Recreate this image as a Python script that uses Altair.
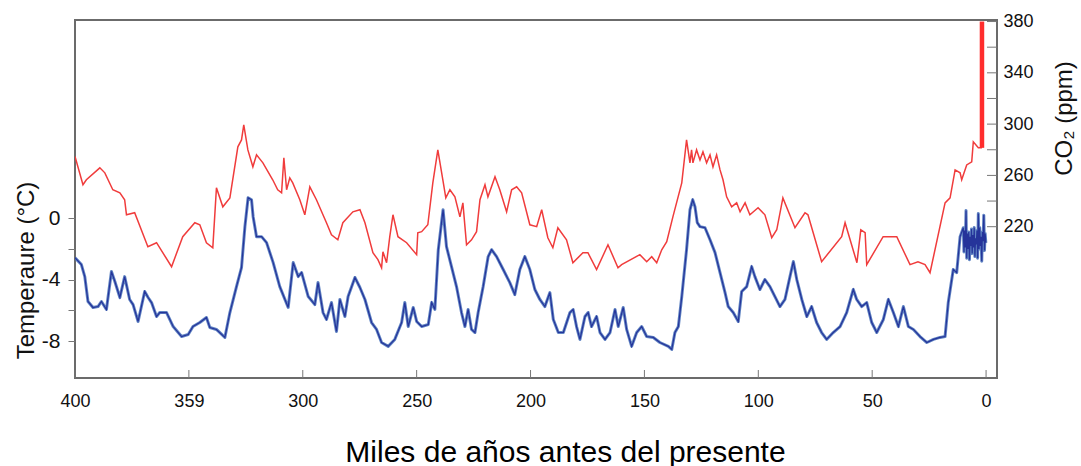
import altair as alt
import pandas as pd

# ---------------- data ----------------
co2_age = [400.0, 396.5, 395.0, 389.1, 386.9, 383.4, 380.3, 378.2, 377.4, 373.8, 368.0, 364.2, 357.6,
           352.7, 347.4, 345.2, 342.3, 339.5, 337.9, 335.1, 332.0, 328.5, 326.9, 325.9, 324.1, 321.9,
           320.3, 317.5, 313.2, 311.0, 309.3, 308.3, 307.1, 305.7, 304.4, 301.3, 299.1, 296.9, 294.0,
           289.6, 287.4, 284.6, 282.4, 278.0, 274.9, 272.7, 269.2, 267.0, 265.4, 264.8, 263.2, 261.8,
           260.4, 258.2, 254.4, 250.0, 249.5, 247.8, 245.1, 242.9, 240.7, 238.5, 237.2, 235.4, 233.2,
           231.0, 229.7, 228.1, 225.9, 223.7, 222.2, 220.0, 218.7, 215.6, 213.5, 210.5, 208.3, 206.1,
           203.9, 200.3, 197.3, 195.1, 192.4, 190.2, 188.0, 184.2, 181.4, 177.0, 174.8, 171.0, 166.0,
           161.6, 160.0, 152.0, 149.0, 146.8, 144.6, 142.4, 140.2, 137.5, 133.6, 131.5, 130.0, 129.3,
           128.7, 127.1, 125.6, 124.3, 122.7, 121.2, 119.9, 118.3, 116.8, 115.5, 113.9, 111.7, 109.5,
           108.0, 105.8, 103.7, 100.1, 97.1, 94.1, 91.9, 89.2, 83.9, 79.5, 78.2, 72.2, 63.4, 61.9,
           56.7, 55.0, 53.1, 52.4, 45.2, 39.2, 33.4, 29.9, 26.8, 24.6, 18.0, 15.8, 13.6, 11.4, 10.7,
           8.5, 6.3, 5.6, 3.4, 1.8]
co2_ppm = [274.7, 252.7, 256.6, 265.9, 262.0, 248.8, 246.4, 241.0, 229.3, 230.9, 204.4, 207.5, 188.8,
           212.2, 223.1, 221.5, 207.5, 203.6, 250.3, 235.5, 242.5, 282.3, 287.7, 299.4, 279.9, 266.7,
           276.0, 269.8, 256.6, 248.8, 246.4, 273.7, 248.8, 258.1, 254.2, 241.0, 229.3, 251.1, 241.0,
           223.1, 213.7, 209.8, 223.1, 231.6, 233.2, 223.1, 199.7, 194.3, 188.0, 200.5, 191.9, 212.2,
           229.3, 212.2, 207.5, 198.2, 215.3, 216.1, 221.5, 254.2, 279.9, 256.6, 242.5, 248.8, 243.3,
           227.7, 238.6, 205.9, 209.8, 216.1, 241.0, 252.7, 243.3, 258.9, 248.8, 231.6, 248.8, 251.1,
           246.4, 221.5, 220.0, 233.2, 211.4, 203.6, 219.2, 209.8, 191.9, 199.7, 199.7, 186.5, 205.9,
           188.0, 190.4, 198.2, 192.7, 196.6, 191.9, 202.0, 208.3, 227.7, 254.2, 287.7, 269.8, 279.9,
           269.8, 279.9, 272.1, 278.4, 269.8, 276.0, 266.7, 276.0, 264.3, 256.6, 243.3, 235.5, 238.6,
           231.6, 238.6, 229.3, 234.8, 229.3, 211.4, 217.6, 242.5, 219.2, 230.9, 229.3, 192.7, 212.2,
           223.1, 191.9, 217.6, 215.3, 190.4, 212.2, 212.2, 190.4, 192.7, 190.4, 184.1, 238.6, 242.5,
           264.3, 262.0, 256.6, 268.2, 270.6, 286.2, 281.5, 281.5]

modern_co2_age = [1.8]
modern_co2_low = [281.5]
modern_co2_high = [380.0]

temp_age = [400.0, 397.2, 395.7, 394.3, 392.1, 389.9, 388.4, 386.2, 384.0, 382.5, 380.3, 378.2, 376.0,
            374.5, 372.3, 369.4, 367.9, 366.4, 364.2, 362.8, 359.8, 356.9, 353.2, 350.3, 348.2, 345.2,
            342.3, 340.8, 337.9, 334.2, 332.0, 329.1, 326.9, 325.4, 324.0, 322.5, 321.8, 320.3, 318.1,
            315.9, 313.0, 310.1, 306.4, 304.2, 302.0, 300.5, 297.6, 294.7, 293.3, 291.1, 289.6, 287.4,
            285.2, 283.7, 281.5, 280.1, 277.1, 274.9, 272.7, 269.8, 267.6, 265.4, 262.5, 259.6, 256.6,
            255.2, 253.7, 251.5, 250.0, 247.8, 244.9, 243.4, 242.0, 240.5, 238.4, 236.9, 234.7, 232.5,
            230.3, 228.8, 227.4, 225.9, 224.4, 223.0, 220.8, 218.6, 217.1, 214.9, 212.0, 209.1, 206.9,
            204.7, 202.5, 200.3, 198.1, 195.9, 193.7, 191.5, 190.0, 187.8, 185.6, 182.7, 181.3, 179.8,
            178.3, 176.1, 174.7, 173.2, 171.0, 169.5, 167.3, 165.1, 162.9, 161.5, 159.3, 157.8, 155.6,
            153.4, 151.2, 149.0, 146.1, 143.2, 139.5, 138.0, 136.6, 135.1, 133.6, 131.5, 130.0, 128.8,
            127.8, 126.8, 125.6, 123.4, 121.2, 119.0, 116.8, 114.6, 113.2, 111.0, 108.8, 107.3, 105.1,
            102.9, 101.5, 99.3, 97.1, 94.9, 92.7, 90.5, 88.3, 86.1, 84.6, 83.1, 80.9, 78.7, 76.6, 74.4,
            72.2, 70.0, 67.1, 64.1, 61.2, 58.3, 56.8, 54.6, 52.4, 50.2, 48.0, 45.1, 42.9, 40.7, 38.5,
            36.3, 34.1, 31.9, 29.0, 26.0, 23.1, 20.2, 18.0, 16.6, 14.4, 12.9, 11.4, 10.0,
            9.7, 9.4, 9.1, 8.8, 8.5, 8.2, 7.9, 7.6, 7.3, 7.0, 6.7, 6.4, 6.1, 5.8, 5.5, 5.2, 4.9, 4.6,
            4.3, 4.0, 3.7, 3.4, 3.1, 2.8, 2.5, 2.2, 1.9, 1.6, 1.3, 1.0, 0.7, 0.4, 0.1]
temp_c = [-2.57, -3.02, -3.80, -5.42, -5.81, -5.75, -5.42, -5.94, -3.47, -4.12, -5.16, -3.80, -5.29,
          -5.62, -6.72, -4.77, -5.16, -5.49, -6.40, -6.14, -6.14, -7.05, -7.70, -7.57, -7.05, -6.79,
          -6.46, -7.11, -7.24, -7.76, -6.14, -4.45, -3.21, -0.55, 1.33, 1.20, 0.10, -1.20, -1.20,
          -1.59, -2.89, -4.45, -5.81, -2.89, -3.80, -3.54, -5.10, -5.62, -4.19, -6.14, -6.59, -5.49,
          -7.37, -5.29, -6.40, -5.10, -3.86, -4.51, -5.29, -6.79, -7.24, -8.09, -8.34, -7.89, -6.79,
          -5.49, -7.05, -5.81, -6.72, -7.05, -6.92, -5.49, -5.94, -2.05, 0.55, -1.85, -3.15, -4.45,
          -6.14, -7.05, -5.94, -7.24, -7.44, -6.14, -4.45, -2.50, -2.05, -2.50, -3.34, -4.19, -4.97,
          -3.34, -2.50, -3.34, -4.64, -5.29, -5.75, -4.84, -6.59, -7.44, -7.44, -6.14, -5.94, -7.05,
          -7.89, -6.40, -6.14, -7.05, -6.40, -7.44, -7.89, -7.44, -5.94, -7.05, -5.81, -7.24, -8.34,
          -7.44, -7.05, -7.70, -7.76, -8.09, -8.34, -8.54, -7.44, -7.05, -5.10, -2.05, 0.55, 1.20,
          0.75, -0.29, -0.55, -0.62, -1.40, -2.24, -3.54, -4.84, -5.75, -6.14, -6.72, -4.77, -4.45,
          -3.15, -3.80, -4.64, -3.99, -4.45, -5.10, -5.75, -5.29, -3.80, -2.82, -3.99, -5.29, -6.40,
          -5.75, -6.79, -7.44, -7.89, -7.44, -7.05, -6.14, -4.64, -5.29, -5.75, -5.49, -6.79, -7.44,
          -6.59, -5.29, -6.14, -7.05, -5.75, -7.05, -7.24, -7.70, -8.09, -7.89, -7.76, -7.70, -5.49,
          -3.34, -3.54, -1.20, -0.62,
          -2.2, -0.8, -1.9, 0.5, -2.6, -1.0, -2.0, -0.9, -2.7, -1.2, -1.8, -0.7, -2.3, -1.1, -1.9,
          -0.6, -2.5, -1.3, -1.7, -0.8, -2.6, 0.3, -2.0, -0.6, -1.8, -1.2, -2.8, -0.9, -1.5, 0.2,
          -2.1, -1.0, -1.6]

x_tick_values = [400, 350, 300, 250, 200, 150, 100, 50, 0]
x_tick_labels = ["400", "359", "300", "250", "200", "150", "100", "50", "0"]
temp_tick_values = [-8, -6, -4, -2, 0]
temp_label_values = [-8, -4, 0]
co2_tick_values = [220, 240, 260, 280, 300, 320, 340, 360, 380]
co2_label_values = [220, 260, 300, 340, 380]

# ---------------- tables ----------------
co2_df = pd.DataFrame({"age": co2_age, "co2": co2_ppm})
temp_df = pd.DataFrame({"age": temp_age, "temp": temp_c})
modern_df = pd.DataFrame({"age": modern_co2_age, "co2": modern_co2_low, "hi": modern_co2_high})
xt_df = pd.DataFrame({"age": x_tick_values})
co2t_df = pd.DataFrame({"co2": co2_tick_values})

W, H = 922, 358
FONT = "Liberation Sans"

x_label_expr = " : ".join(
    f"datum.value == {v} ? '{l}'" for v, l in zip(x_tick_values, x_tick_labels)
) + " : ''"

x_scale = alt.Scale(domain=[-4.8, 400], reverse=True, nice=False, zero=False)
t_scale = alt.Scale(domain=[-10.4, 12.9], nice=False, zero=False)
c_scale = alt.Scale(domain=[102, 381.2], nice=False, zero=False)

x_axis = alt.Axis(
    values=x_tick_values, labelExpr=x_label_expr, tickSize=0, domain=False, grid=False,
    labelFlush=False, labelOverlap=False,
    labelFont=FONT, labelFontSize=18, labelColor="#111", labelPadding=14,
    title="Miles de años antes del presente", titleFont=FONT, titleFontSize=30,
    titleFontWeight="normal", titleColor="#000", titleX=490, titleY=83,
    titleBaseline="alphabetic", titleAlign="center",
)

t_axis = alt.Axis(
    values=temp_tick_values,
    labelExpr=f"indexof({temp_label_values}, datum.value) >= 0 ? '' + datum.value : ''",
    tickSize=7, tickColor="#777", tickWidth=1, domain=False, grid=False,
    labelFlush=False, labelOverlap=False,
    labelFont=FONT, labelFontSize=21, labelColor="#111", labelPadding=8,
    title="Temperaure (°C)", titleFont=FONT, titleFontSize=24, titleFontWeight="normal",
    titleColor="#111", titleX=-37, titleY=250, titleAngle=270, titleBaseline="bottom",
    titleAlign="center",
)

c_axis = alt.Axis(
    orient="right", values=co2_label_values, format="d", tickSize=0, domain=False, grid=False,
    labelFlush=False, labelOverlap=False,
    labelFont=FONT, labelFontSize=18, labelColor="#111", labelPadding=6,
    title="CO₂ (ppm)", titleFont=FONT, titleFontSize=24, titleFontWeight="normal",
    titleColor="#111", titleX=79, titleY=98, titleAngle=270, titleBaseline="bottom",
    titleAlign="center",
)

X = alt.X("age:Q", scale=x_scale, axis=x_axis)

# temperature (blue) layers
blue_halo = alt.Chart(temp_df).mark_line(
    color="#4570b8", strokeWidth=3.0, opacity=0.85, clip=True, strokeJoin="round"
).encode(x=X, y=alt.Y("temp:Q", scale=t_scale, axis=t_axis))
blue_core = alt.Chart(temp_df).mark_line(
    color="#25349a", strokeWidth=1.2, clip=True
).encode(x=X, y=alt.Y("temp:Q", scale=t_scale, axis=t_axis))
temp_group = alt.layer(blue_halo, blue_core)

# CO2 (red) layers
red_line = alt.Chart(co2_df).mark_line(
    color="#f03c3c", strokeWidth=1.5, clip=True
).encode(x=X, y=alt.Y("co2:Q", scale=c_scale, axis=c_axis))
red_bar = alt.Chart(modern_df).mark_rule(color="#ff2d2d", strokeWidth=4.5).encode(
    x=X, y=alt.Y("co2:Q", scale=c_scale, axis=c_axis), y2="hi:Q",
)
co2_ticks = alt.Chart(co2t_df).mark_rule(color="#777", strokeWidth=1).encode(
    y=alt.Y("co2:Q", scale=c_scale, axis=c_axis),
    x=alt.value(W - 10), x2=alt.value(W),
)
co2_group = alt.layer(red_line, red_bar, co2_ticks)

# bottom inward ticks
x_ticks = alt.Chart(xt_df).mark_rule(color="#777", strokeWidth=1).encode(
    x=X, y=alt.value(H - 8), y2=alt.value(H),
)

chart = alt.layer(temp_group, co2_group, x_ticks).resolve_scale(y="independent").properties(
    width=W, height=H,
    autosize="none",
    padding={"left": 75, "top": 20, "right": 84, "bottom": 88},
    background="white",
).configure_view(stroke="#6b6b6b", strokeWidth=2)

chart.save("out.html", embed_options={"renderer": "svg", "actions": False})
